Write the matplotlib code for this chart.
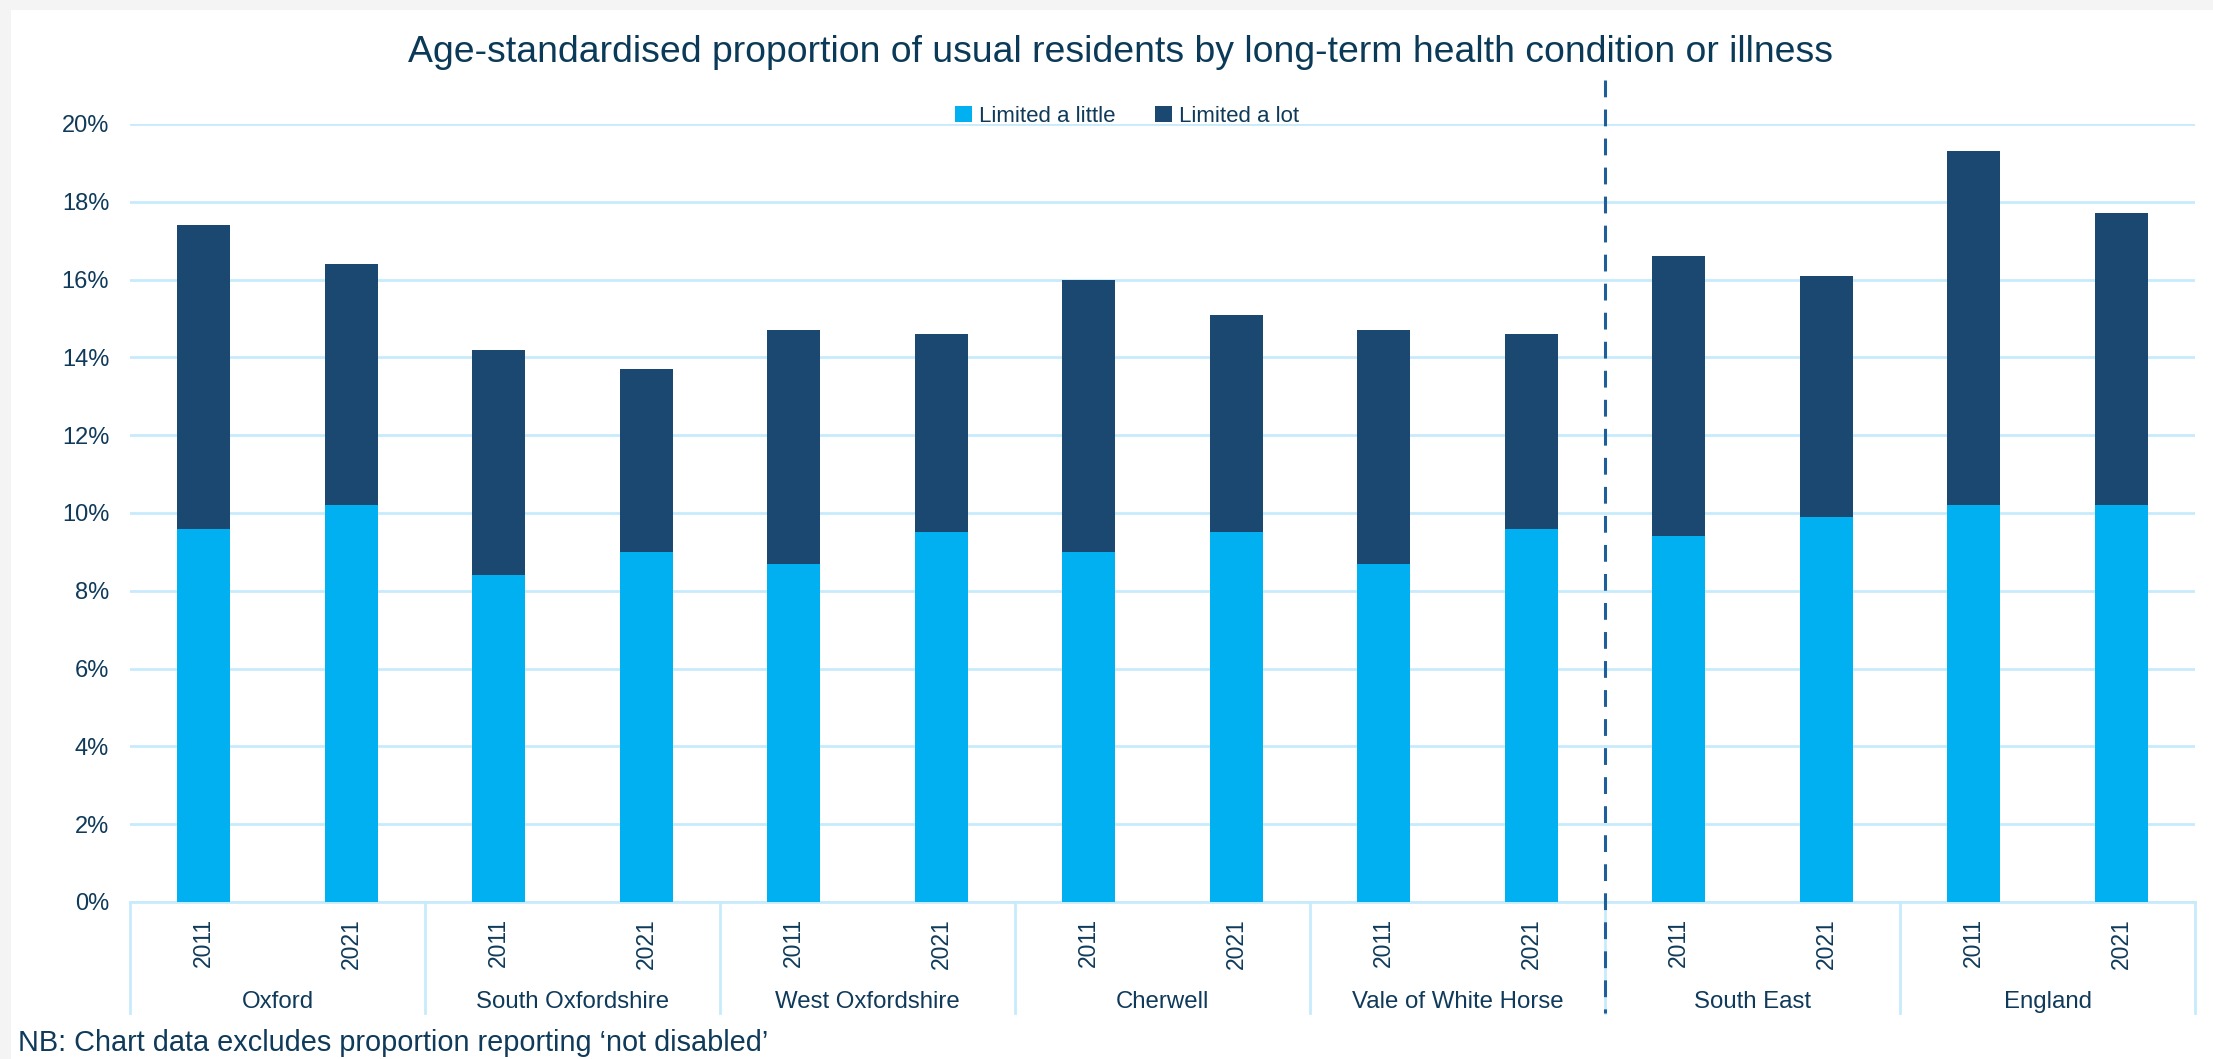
import matplotlib
matplotlib.use("Agg")
import matplotlib.pyplot as plt
from matplotlib.patches import Rectangle
from matplotlib.transforms import blended_transform_factory
import numpy as np

areas = ['Oxford', 'South Oxfordshire', 'West Oxfordshire', 'Cherwell',
         'Vale of White Horse', 'South East', 'England']
years = ['2011', '2021']
limited_little = [9.6, 10.2, 8.4, 9.0, 8.7, 9.5, 9.0, 9.5, 8.7, 9.6, 9.4, 9.9, 10.2, 10.2]
totals = [17.4, 16.4, 14.2, 13.7, 14.7, 14.6, 16.0, 15.1, 14.7, 14.6, 16.6, 16.1, 19.3, 17.7]
limited_lot = [round(t - l, 1) for t, l in zip(totals, limited_little)]

light = '#00b0f0'
dark = '#1a4870'
text_col = '#0f3a5a'
grid_col = '#c8ebfc'

plt.rcParams['font.family'] = ['Liberation Sans', 'DejaVu Sans']

fig = plt.figure(figsize=(22.13, 10.59), dpi=100)
fig.patch.set_facecolor('#f4f4f4')
fig.patches.append(Rectangle((11 / 2213, 0), 1, 1 - 10 / 1059, transform=fig.transFigure,
                             facecolor='white', edgecolor='none', zorder=-10))

ax = fig.add_axes([130 / 2213, 1 - 902 / 1059, (2195 - 130) / 2213, (902 - 124) / 1059])
ax.set_facecolor('none')

x = np.arange(len(limited_little))
little = np.array(limited_little) / 100
lot = np.array(limited_lot) / 100
ax.bar(x, little, width=0.36, color=light, label='Limited a little', zorder=3)
ax.bar(x, lot, width=0.36, bottom=little, color=dark, label='Limited a lot', zorder=3)

ax.set_xlim(-0.5, len(x) - 0.5)
ax.set_ylim(0, 0.20)
ax.set_yticks(np.arange(0, 0.201, 0.02))
ax.set_yticklabels([f'{v:.0f}%' for v in np.arange(0, 20.1, 2)], fontsize=17, color=text_col)
ax.tick_params(axis='y', length=0, pad=15)
ax.tick_params(axis='x', length=0, labelbottom=False)
ax.grid(axis='y', color=grid_col, linewidth=2, zorder=1)
for s in ['top', 'right', 'left']:
    ax.spines[s].set_visible(False)
ax.spines['bottom'].set_color(grid_col)
ax.spines['bottom'].set_linewidth(2)

tr = blended_transform_factory(ax.transData, fig.transFigure)

# year labels and group labels under the axis
for i in x:
    ax.text(i, 1 - 918 / 1059, years[i % 2], transform=tr, rotation=90, ha='center',
            va='top', fontsize=16.5, color=text_col)
for g, name in enumerate(areas):
    ax.text(2 * g + 0.5, 1 - 1002 / 1059, name, transform=tr, ha='center', va='center',
            fontsize=17.3, color=text_col)
for b in np.arange(-0.5, len(x), 2):
    ax.plot([b, b], [1 - 902 / 1059, 1 - 1013 / 1059], transform=tr, color=grid_col,
            linewidth=2, clip_on=False)

# dashed separator between districts and comparators
ax.plot([9.5, 9.5], [1 - 80 / 1059, 1 - 1013 / 1059], transform=tr, color='#1f5f99',
        linewidth=2.2, dashes=(5.5, 4), clip_on=False, zorder=5)

fig.text(0.5 + 14 / 2213, 1 - 52 / 1059,
         'Age-standardised proportion of usual residents by long-term health condition or illness',
         ha='center', va='center', fontsize=26.9, color='#0b3a58')

leg = ax.legend(loc='center', bbox_to_anchor=(1127 / 2213, 1 - 116 / 1059),
                bbox_transform=fig.transFigure, ncol=2, frameon=False, fontsize=16,
                handlelength=0.75, handleheight=0.75, handletextpad=0.3, columnspacing=1.8)
for t in leg.get_texts():
    t.set_color(text_col)

fig.text(18 / 2213, 1 - 1043 / 1059,
         'NB: Chart data excludes proportion reporting \u2018not disabled\u2019',
         ha='left', va='center', fontsize=20.8, color=text_col)

fig.savefig('out.png', dpi=100, facecolor=fig.get_facecolor())
